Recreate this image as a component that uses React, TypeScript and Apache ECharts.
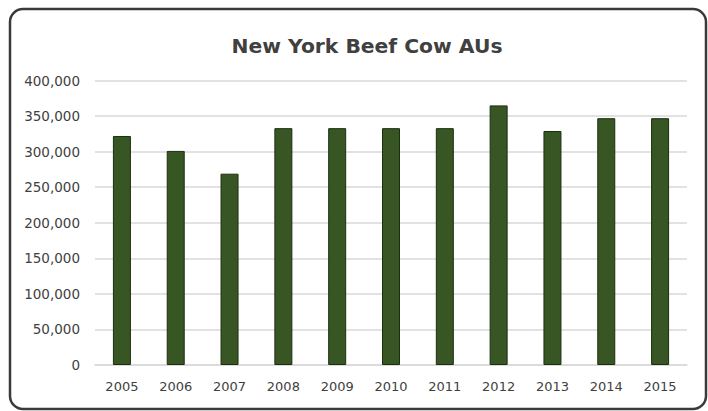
import React, { useEffect, useRef } from "react";
import * as echarts from "echarts";

const years = ["2005", "2006", "2007", "2008", "2009", "2010", "2011", "2012", "2013", "2014", "2015"];
const beefCowAUs = [322000, 301000, 269000, 333000, 333000, 333000, 333000, 365000, 329000, 347000, 347000];
const titleText = "New York Beef Cow AUs";

export default function App() {
  const ref = useRef<HTMLDivElement>(null);
  useEffect(() => {
    if (!ref.current) return;
    const chart = echarts.init(ref.current, null, { renderer: "svg" });
    chart.setOption({
      animation: false,
      backgroundColor: "#ffffff",
      title: {
        text: titleText,
        left: 362,
        textAlign: "center",
        top: 31,
        textStyle: {
          fontFamily: "'DejaVu Sans', sans-serif",
          fontSize: 20.3,
          fontWeight: "bold",
          color: "#404040",
        },
      },
      graphic: [
        {
          type: "rect",
          shape: { x: 10, y: 9, width: 696, height: 400, r: 13 },
          style: { fill: "none", stroke: "#3a3a3a", lineWidth: 2.5 },
          silent: true,
        },
      ],
      grid: { left: 95, right: 21, top: 80.5, bottom: 46, containLabel: false },
      xAxis: {
        type: "category",
        data: years,
        axisLine: { show: true, lineStyle: { color: "#d9d9d9", width: 1.5 } },
        axisTick: { show: false },
        axisLabel: {
          color: "#3f3f3f",
          fontFamily: "'DejaVu Sans', sans-serif",
          fontSize: 13,
          margin: 15,
        },
      },
      yAxis: {
        type: "value",
        min: 0,
        max: 400000,
        interval: 50000,
        axisLine: { show: false },
        axisTick: { show: false },
        splitLine: { lineStyle: { color: "#d9d9d9", width: 1.5 } },
        axisLabel: {
          color: "#3f3f3f",
          fontFamily: "'DejaVu Sans', sans-serif",
          fontSize: 13.5,
          margin: 15,
          formatter: (v: number) => v.toLocaleString("en-US"),
        },
      },
      series: [
        {
          type: "bar",
          data: beefCowAUs,
          barWidth: 18,
          itemStyle: { color: "#375623", borderColor: "#1c2e10", borderWidth: 1 },
        },
      ],
    });
    return () => chart.dispose();
  }, []);
  return (
    <div
      ref={ref}
      style={{ position: "fixed", left: 0, top: 0, width: 708, height: 411 }}
    />
  );
}
